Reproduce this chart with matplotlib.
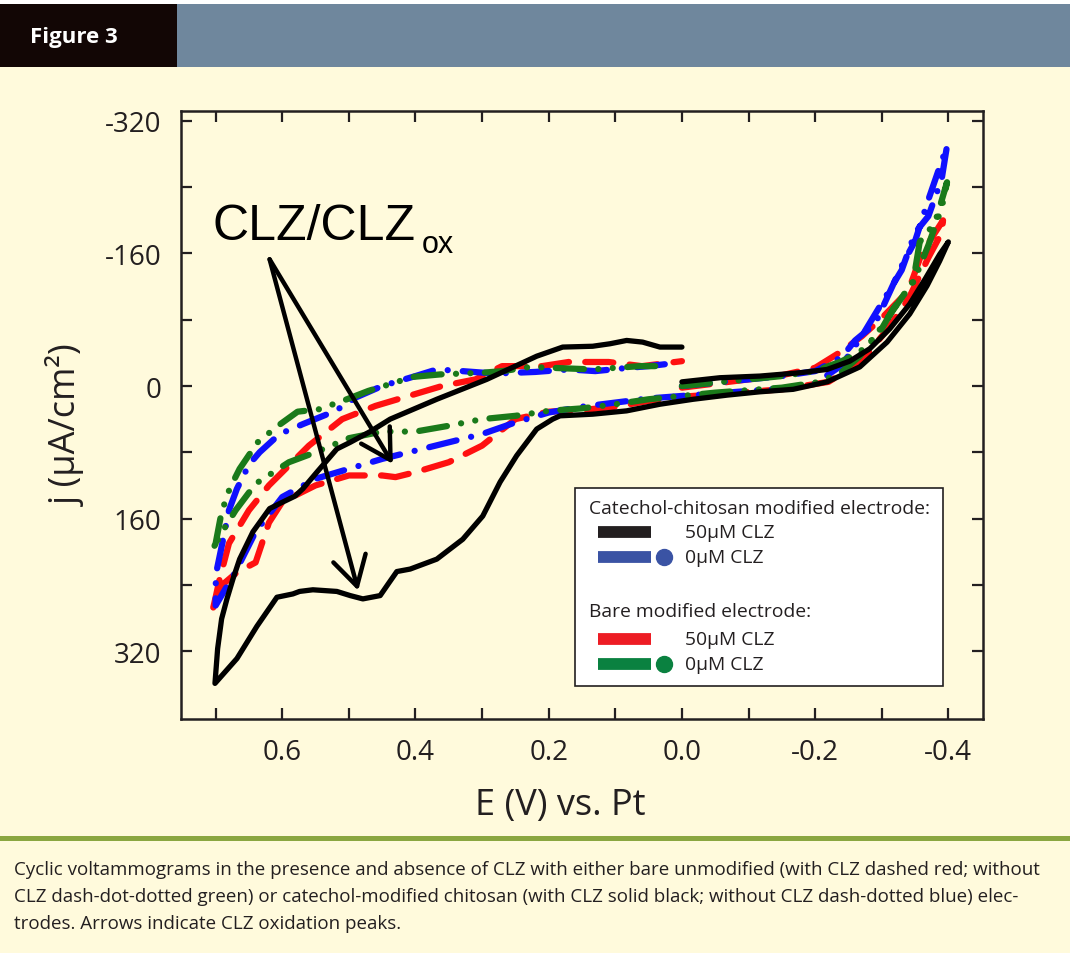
import numpy as np
import matplotlib.pyplot as plt
from matplotlib.patches import Rectangle
from matplotlib.lines import Line2D

# Datos: E (V) y j (uA/cm2)
black_v = [0.0, -0.057, -0.117, -0.177, -0.218, -0.252, -0.282, -0.312, -0.342, -0.365, -0.387, -0.400,
           -0.387, -0.368, -0.342, -0.308, -0.267, -0.218, -0.167, -0.117, -0.068, -0.017, 0.033, 0.083,
           0.134, 0.183, 0.194, 0.218, 0.248, 0.273, 0.299, 0.329, 0.368, 0.408, 0.428, 0.441, 0.453,
           0.479, 0.498, 0.518, 0.554, 0.574, 0.584, 0.596, 0.608, 0.638, 0.668, 0.701,
           0.697, 0.691, 0.683, 0.674, 0.664, 0.644, 0.619, 0.599, 0.581, 0.569, 0.548, 0.518, 0.498,
           0.468, 0.438, 0.368, 0.293, 0.218, 0.179, 0.134, 0.108, 0.083, 0.059, 0.033, 0.0]
black_j = [-5, -10, -12, -16, -20, -30, -45, -69, -99, -129, -159, -174,
           -151, -121, -87, -53, -23, -5, 4, 7, 11, 16, 22, 30,
           34, 36, 40, 52, 84, 116, 157, 185, 209, 221, 224, 239, 253,
           257, 253, 248, 246, 248, 251, 253, 255, 290, 329, 359,
           317, 281, 257, 233, 209, 176, 148, 140, 133, 124, 104, 76, 68,
           55, 40, 16, -8, -36, -47, -48, -51, -55, -53, -47, -47]

blue_v = [0.0, -0.05, -0.1, -0.15, -0.2, -0.24, -0.26, -0.29, -0.31, -0.33, -0.35, -0.37, -0.385, -0.398,
          -0.39, -0.37, -0.35, -0.33, -0.30, -0.27, -0.24, -0.2, -0.15, -0.1, -0.05, 0.0, 0.05, 0.1,
          0.15, 0.2, 0.25, 0.3, 0.35, 0.4, 0.45, 0.5, 0.55, 0.6, 0.64, 0.67, 0.70,
          0.70, 0.698, 0.69, 0.68, 0.668, 0.65, 0.634, 0.604, 0.569, 0.52, 0.49, 0.45, 0.40, 0.368,
          0.33, 0.28, 0.22, 0.17, 0.13, 0.08, 0.05, 0.018]
blue_j = [0, -4, -8, -12, -18, -35, -55, -75, -110, -145, -175, -225, -260, -290,
          -250, -205, -185, -140, -100, -60, -25, -3, 3, 6, 9, 12, 15, 20,
          25, 32, 44, 58, 68, 78, 88, 100, 112, 134, 176, 224, 265,
          240, 221, 190, 150, 124, 95, 80, 58, 46, 30, 14, 0, -12, -20,
          -18, -15, -17, -20, -18, -22, -24, -27]

red_v = [0.0, -0.05, -0.1, -0.15, -0.2, -0.24, -0.27, -0.30, -0.34, -0.36, -0.38, -0.392,
         -0.39, -0.37, -0.34, -0.31, -0.27, -0.22, -0.15, -0.1, -0.05, 0.0, 0.05, 0.1, 0.15, 0.2,
         0.25, 0.3, 0.35, 0.4, 0.43, 0.45, 0.5, 0.55, 0.6, 0.62, 0.64, 0.668, 0.69, 0.704,
         0.70, 0.694, 0.68, 0.65, 0.62, 0.60, 0.56, 0.51, 0.46, 0.41, 0.36, 0.31, 0.27, 0.21,
         0.17, 0.11, 0.06, 0.0]
red_j = [2, -3, -8, -13, -22, -42, -60, -82, -115, -160, -185, -200,
         -185, -155, -105, -70, -30, -5, 4, 7, 10, 13, 18, 25, 29, 31,
         40, 72, 92, 104, 110, 108, 108, 120, 140, 165, 213, 225, 240, 269,
         255, 233, 190, 150, 120, 104, 72, 40, 24, 12, 0, -8, -24, -24,
         -29, -29, -24, -30]

green_v = [0.0, -0.05, -0.1, -0.15, -0.2, -0.24, -0.267, -0.297, -0.317, -0.347, -0.357, -0.372, -0.383, -0.398,
           -0.39, -0.37, -0.35, -0.32, -0.29, -0.267, -0.24, -0.207, -0.15, -0.1, -0.05, 0.0, 0.05, 0.1,
           0.15, 0.2, 0.25, 0.3, 0.35, 0.4, 0.45, 0.5, 0.55, 0.59, 0.64, 0.67, 0.69, 0.704,
           0.70, 0.691, 0.679, 0.664, 0.637, 0.608, 0.577, 0.544, 0.503, 0.471, 0.404, 0.363, 0.30,
           0.269, 0.228, 0.134, 0.063, 0.033]
green_j = [0, -4, -8, -12, -18, -30, -41, -65, -93, -125, -174, -189, -205, -246,
           -215, -170, -130, -95, -60, -36, -17, -5, 2, 5, 8, 12, 16, 22,
           27, 30, 36, 40, 48, 55, 55, 63, 80, 92, 118, 150, 176, 197,
           190, 152, 124, 100, 68, 49, 31, 28, 16, 6, -11, -14, -16,
           -18, -23, -20, -24, -24]

x_ticks = [0.7, 0.6, 0.5, 0.4, 0.3, 0.2, 0.1, 0.0, -0.1, -0.2, -0.3, -0.4]
x_labels = ['', '0.6', '', '0.4', '', '0.2', '', '0.0', '', '-0.2', '', '-0.4']
y_ticks = [-320, -240, -160, -80, 0, 80, 160, 240, 320]
y_labels = ['-320', '', '-160', '', '0', '', '160', '', '320']

caption = ["Cyclic voltammograms in the presence and absence of CLZ with either bare unmodified (with CLZ dashed red; without",
           "CLZ dash-dot-dotted green) or catechol-modified chitosan (with CLZ solid black; without CLZ dash-dotted blue) elec-",
           "trodes. Arrows indicate CLZ oxidation peaks."]

W, H = 1070, 954
cream = '#fffadc'
ink = '#231f20'

fig = plt.figure(figsize=(W / 100, H / 100), dpi=100)
fig.patch.set_facecolor(cream)

def fx(x):
    return x / W

def fy(y):
    return 1 - y / H

# Cabecera
fig.add_artist(Rectangle((0, fy(5)), 1, 5 / H, transform=fig.transFigure, color='white', lw=0))
fig.add_artist(Rectangle((0, fy(68)), fx(177), 63 / H, transform=fig.transFigure, color='#120605', lw=0))
fig.add_artist(Rectangle((fx(177), fy(68)), 1 - fx(177), 63 / H, transform=fig.transFigure, color='#6f879d', lw=0))
fig.text(fx(30), fy(38), 'Figure 3', color='white', fontsize=16, fontweight='bold',
         family='Open Sans', va='center', ha='left')

# Linea verde y pie
fig.add_artist(Rectangle((0, fy(842)), 1, 5 / H, transform=fig.transFigure, color='#8aa640', lw=0))
for k, line in enumerate(caption):
    fig.text(fx(14), fy(870 + 27 * k), line, fontsize=13.5, family='Open Sans',
             color=ink, va='center', ha='left')

# Ejes
ax = fig.add_axes([fx(181), fy(720), fx(983) - fx(181), (720 - 112) / H])
ax.set_facecolor(cream)
ax.set_xlim(0.752, -0.452)
ax.set_ylim(402, -332)

ax.plot(red_v, red_j, color='#ff1010', lw=4.5, dashes=(4.5, 2.6), dash_capstyle='round', zorder=3)
ax.plot(blue_v, blue_j, color='#1010ff', lw=4.5, dashes=(4.5, 2.4, 0.01, 2.4), dash_capstyle='round', zorder=3)
ax.plot(green_v, green_j, color='#1a7a1a', lw=4.5, dashes=(4.5, 2.3, 0.01, 2.3, 0.01, 2.3),
        dash_capstyle='round', zorder=3)
ax.plot(black_v, black_j, color='black', lw=3.8, solid_capstyle='round', solid_joinstyle='round', zorder=4)

ax.set_xticks(x_ticks)
ax.set_xticklabels(x_labels)
ax.set_yticks(y_ticks)
ax.set_yticklabels(y_labels)
ax.tick_params(direction='in', length=8, width=1.6, top=True, right=True, colors=ink,
               labelsize=20, pad=14)
for lab in ax.get_xticklabels() + ax.get_yticklabels():
    lab.set_family('Open Sans')
for s in ax.spines.values():
    s.set_linewidth(1.8)
    s.set_color(ink)

fig.text(fx(560), fy(806), 'E (V) vs. Pt', fontsize=26, family='Open Sans', color=ink,
         ha='center', va='center')
fig.text(fx(66), fy(425), 'j (\u03bcA/cm\u00b2)', fontsize=26, family='Open Sans', color=ink,
         ha='center', va='center', rotation=90)

# Anotacion y flechas
ax.text(0.704, -177, 'CLZ/CLZ', fontsize=36, family='Liberation Sans', color='black',
        ha='left', va='baseline', zorder=6)
ax.text(0.390, -162, 'ox', fontsize=22, family='Liberation Sans', color='black',
        ha='left', va='baseline', zorder=6)
for tip in [(0.486, 247), (0.434, 94)]:
    ax.annotate('', xy=tip, xytext=(0.619, -153),
                arrowprops=dict(arrowstyle='->,head_length=0.7,head_width=0.4', lw=3.2,
                                color='black', mutation_scale=30, shrinkA=0, shrinkB=0), zorder=6)

# Leyenda dibujada a mano
fig.add_artist(Rectangle((fx(575), fy(687)), fx(943) - fx(575), (687 - 489) / H,
                         transform=fig.transFigure, facecolor='white', edgecolor=ink, lw=1.2, zorder=5))
leg_font = dict(fontsize=13.9, family='Open Sans', color=ink, va='center', ha='left', zorder=6)
fig.text(fx(589), fy(509), 'Catechol-chitosan modified electrode:', **leg_font)
fig.text(fx(589), fy(612), 'Bare modified electrode:', **leg_font)
entries = [(533, '#231f20', False, '50\u03bcM CLZ'),
           (558, '#3a53a4', True, '0\u03bcM CLZ'),
           (640, '#ed1c24', False, '50\u03bcM CLZ'),
           (665, '#0a8140', True, '0\u03bcM CLZ')]
for y, c, dot, lab in entries:
    fig.add_artist(Line2D([fx(598), fx(651)], [fy(y), fy(y)], transform=fig.transFigure,
                          color=c, lw=8.5, solid_capstyle='butt', zorder=6))
    if dot:
        fig.add_artist(Line2D([fx(664)], [fy(y)], transform=fig.transFigure, marker='o',
                              markersize=11.5, color=c, lw=0, zorder=6))
    fig.text(fx(685), fy(y), lab, **leg_font)

fig.savefig('out.png', dpi=100, facecolor=fig.get_facecolor())
